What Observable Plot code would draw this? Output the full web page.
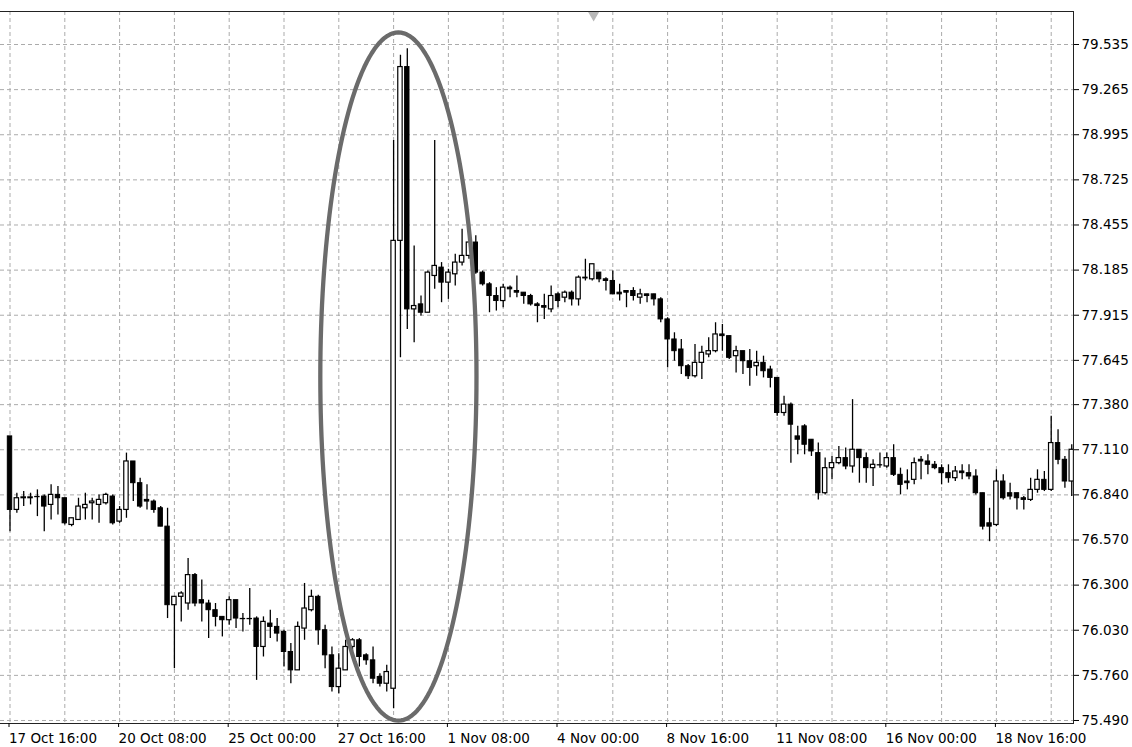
<!DOCTYPE html>
<html><head><meta charset="utf-8">
<script src="https://cdn.jsdelivr.net/npm/d3@7"></script>
<script src="https://cdn.jsdelivr.net/npm/@observablehq/plot@0.6"></script>
<style>
html,body{margin:0;padding:0;background:#fff;}
#chart{width:1132px;height:747px;overflow:hidden;}
</style></head><body><div id="chart"></div>
<script>
// H4 candles, bar index 0 = 17 Oct 16:00
const openP = [77.19,76.75,76.82,76.82,76.83,76.83,76.78,76.84,76.82,76.66,76.69,76.76,76.79,76.78,76.79,76.83,76.68,76.75,77.04,76.91,
76.81,76.80,76.76,76.65,76.18,76.23,76.19,76.36,76.21,76.19,76.15,76.11,76.09,76.21,76.10,76.10,76.10,75.93,76.07,76.05,
76.02,75.90,75.79,76.04,76.15,76.23,76.03,75.88,75.69,75.79,75.93,75.97,75.88,75.85,75.75,75.71,75.68,78.36,79.40,77.95,
77.98,77.93,78.15,78.20,78.11,78.16,78.23,78.27,78.35,78.17,78.10,78.03,78.00,78.08,78.06,78.05,78.03,77.98,77.97,77.95,
78.04,78.02,78.05,78.01,78.14,78.13,78.17,78.13,78.12,78.05,78.06,78.06,78.02,78.04,78.04,78.01,77.89,77.77,77.71,77.61,
77.55,77.63,77.68,77.70,77.80,77.79,77.67,77.70,77.64,77.61,77.63,77.59,77.54,77.33,77.38,77.19,77.25,77.17,77.09,76.85,
77.00,77.03,77.06,77.01,77.11,77.06,77.00,77.02,77.01,77.06,76.96,76.92,76.93,77.05,77.04,77.02,77.00,76.97,76.94,76.98,
76.97,76.95,76.85,76.67,76.66,76.92,76.85,76.85,76.82,76.81,76.87,76.93,76.87,77.15,77.05,76.92];
const highP = [77.19,76.85,76.86,76.85,76.87,76.84,76.90,76.89,76.82,76.70,76.82,76.85,76.82,76.84,76.85,76.84,76.77,77.09,77.04,76.94,
76.90,76.81,76.77,76.76,76.23,76.26,76.46,76.37,76.33,76.21,76.19,76.11,76.23,76.21,76.13,76.28,76.11,76.11,76.15,76.10,
76.03,75.95,76.08,76.31,76.27,76.24,76.06,75.93,75.89,75.97,75.98,75.98,75.89,75.93,75.77,75.82,78.96,79.47,79.51,78.33,
78.03,78.18,78.96,78.23,78.19,78.28,78.43,78.42,78.39,78.18,78.11,78.08,78.10,78.09,78.15,78.05,78.04,77.99,78.04,78.09,
78.05,78.06,78.06,78.15,78.25,78.22,78.17,78.14,78.18,78.10,78.06,78.08,78.07,78.04,78.04,78.02,77.90,77.81,77.77,77.62,
77.74,77.73,77.78,77.87,77.86,77.79,77.73,77.70,77.71,77.70,77.67,77.61,77.54,77.43,77.39,77.25,77.26,77.17,77.15,77.06,
77.07,77.13,77.12,77.41,77.11,77.09,77.05,77.09,77.09,77.14,77.00,76.99,77.06,77.07,77.08,77.04,77.02,77.02,77.01,77.02,
77.02,76.99,76.85,76.76,76.99,76.96,76.91,76.85,76.83,76.94,76.99,76.98,77.31,77.23,77.07,77.14];
const lowP = [76.62,76.73,76.77,76.78,76.71,76.62,76.69,76.72,76.66,76.65,76.69,76.69,76.69,76.67,76.78,76.66,76.67,76.70,76.80,76.76,
76.75,76.73,76.65,76.10,75.80,76.08,76.15,76.17,76.08,75.98,76.05,75.99,76.06,76.04,76.02,76.06,75.73,75.87,75.98,75.96,
75.81,75.71,75.79,75.97,76.14,75.94,75.80,75.66,75.65,75.79,75.90,75.81,75.82,75.71,75.69,75.66,75.56,77.66,77.83,77.75,
77.91,77.93,78.07,77.99,78.01,78.09,78.21,78.25,78.16,78.09,77.93,77.94,77.96,78.02,78.02,77.98,77.97,77.87,77.89,77.93,
77.96,77.99,77.97,77.97,78.12,78.12,78.11,78.06,78.04,78.00,77.96,78.00,77.98,77.99,77.97,77.87,77.60,77.64,77.56,77.53,
77.54,77.53,77.66,77.69,77.70,77.65,77.57,77.56,77.49,77.55,77.54,77.48,77.31,77.31,77.03,77.08,77.08,77.07,76.81,76.84,
76.93,77.02,76.99,76.97,76.91,76.91,76.89,77.00,77.00,76.95,76.84,76.87,76.90,76.93,76.96,76.99,76.90,76.91,76.92,76.93,
76.93,76.84,76.63,76.56,76.65,76.81,76.81,76.75,76.75,76.80,76.85,76.86,76.86,77.02,76.88,76.83];
const closeP = [76.75,76.82,76.825,76.825,76.83,76.77,76.84,76.82,76.67,76.70,76.77,76.78,76.80,76.81,76.84,76.67,76.75,77.04,76.91,76.77,
76.80,76.75,76.65,76.18,76.23,76.25,76.36,76.19,76.19,76.15,76.11,76.09,76.21,76.10,76.10,76.10,75.93,76.08,76.05,76.01,
75.90,75.79,76.05,76.16,76.23,76.03,75.88,75.69,75.80,75.93,75.97,75.87,75.85,75.74,75.71,75.78,78.36,79.40,77.95,77.97,
77.93,78.17,78.21,78.11,78.17,78.23,78.27,78.35,78.17,78.10,78.03,78.00,78.08,78.07,78.05,78.03,77.98,77.97,77.96,78.03,
78.00,78.05,78.01,78.14,78.135,78.22,78.13,78.12,78.04,78.04,78.05,78.03,78.04,78.03,78.01,77.89,77.77,77.70,77.61,77.55,
77.63,77.69,77.70,77.80,77.79,77.66,77.70,77.64,77.60,77.63,77.58,77.54,77.33,77.38,77.26,77.17,77.14,77.10,76.85,77.00,
77.03,77.06,77.01,77.11,77.06,77.00,77.02,77.02,77.06,76.96,76.90,76.91,77.03,77.04,77.02,77.00,76.97,76.94,76.98,76.97,
76.95,76.85,76.65,76.65,76.92,76.82,76.83,76.82,76.81,76.87,76.93,76.87,77.15,77.05,76.92,77.11];

const xTickBars = [0,16,32,48,64,80,96,112,128,144];
const xTickLabels = ["17 Oct 16:00","20 Oct 08:00","25 Oct 00:00","27 Oct 16:00","1 Nov 08:00",
                     "4 Nov 00:00","8 Nov 16:00","11 Nov 08:00","16 Nov 00:00","18 Nov 16:00"];
const gridBars = [0,8,16,24,32,40,48,56,64,72,80,88,96,104,112,120,128,136,144,152];
const yTickLabels = ["75.490","75.760","76.030","76.300","76.570","76.840","77.110","77.380",
                     "77.645","77.915","78.185","78.455","78.725","78.995","79.265","79.535"];
// highlight ellipse: centre bar, centre price, half-width (bars), half-height (price)
const ellipseSpec = [56.7, 77.548, 11.4, 2.059];
// chart-shift marker (bar, price)
const shiftMarker = [85.2, 79.715];

const candles = openP.map((o, i) => ({i, open: o, high: highP[i], low: lowP[i], close: closeP[i]}));
const bull = candles.filter(d => d.close > d.open);
const bear = candles.filter(d => d.close < d.open);
const doji = candles.filter(d => Math.abs(d.close - d.open) < 0.004);
const yTicks = yTickLabels.map(Number);
const xLabelMap = new Map(xTickBars.map((b, k) => [b, xTickLabels[k]]));
const yLabelMap = new Map(yTicks.map((v, k) => [v, yTickLabels[k]]));

const [ecx, ecy, erx, ery] = ellipseSpec;
const ellipsePts = [];
for (let a = 0; a <= 360; a += 2) {
  const t = a * Math.PI / 180;
  ellipsePts.push({x: ecx + erx * Math.cos(t), y: ecy + ery * Math.sin(t)});
}
const hw = 0.32;
const gridStyle = {stroke: "#ababab", strokeDasharray: "4,3", strokeWidth: 1};

const chart = Plot.plot({
  width: 1132, height: 747,
  marginLeft: 0, marginRight: 59, marginTop: 11, marginBottom: 24,
  x: {domain: [-1.387, 155.255], axis: null},
  y: {domain: [75.472, 79.7325], axis: null},
  style: {fontFamily: "'DejaVu Sans', sans-serif", fontSize: "13.5px", color: "#000", background: "#fff"},
  marks: [
    Plot.ruleX(gridBars, gridStyle),
    Plot.ruleY(yTicks, gridStyle),
    Plot.ruleX(candles, {x: "i", y1: "low", y2: "high", stroke: "#000", strokeWidth: 1.3, clip: true}),
    Plot.rect(bear, {x1: d => d.i - hw, x2: d => d.i + hw, y1: "open", y2: "close", fill: "#000", stroke: "#000", strokeWidth: 1, clip: true}),
    Plot.rect(bull, {x1: d => d.i - hw, x2: d => d.i + hw, y1: "open", y2: "close", fill: "#fff", stroke: "#000", strokeWidth: 1.2, clip: true}),
    Plot.ruleY(doji, {y: "close", x1: d => d.i - hw - 0.08, x2: d => d.i + hw + 0.08, stroke: "#000", strokeWidth: 1.3, clip: true}),
    Plot.line(ellipsePts, {x: "x", y: "y", stroke: "#6b6b6b", strokeWidth: 4.3, curve: "linear", clip: true}),
    Plot.dot([shiftMarker], {x: d => d[0], y: d => d[1], symbol: "triangle", rotate: 180, r: 4.5, fill: "#b8b8b8", stroke: "none"}),
    Plot.frame({anchor: "top", stroke: "#222"}),
    Plot.frame({anchor: "right", stroke: "#222"}),
    Plot.frame({anchor: "bottom", stroke: "#222"}),
    Plot.axisX(xTickBars, {anchor: "bottom", tickSize: 4, tickPadding: 6, textAnchor: "start", dx: -1,
      tickFormat: d => xLabelMap.get(d), fill: "#000", stroke: "#000"}),
    Plot.axisY(yTicks, {anchor: "right", tickSize: 5, tickPadding: 3, textAnchor: "start",
      tickFormat: d => yLabelMap.get(d), fill: "#000", stroke: "#000"})
  ]
});
document.getElementById("chart").appendChild(chart);
</script></body></html>
